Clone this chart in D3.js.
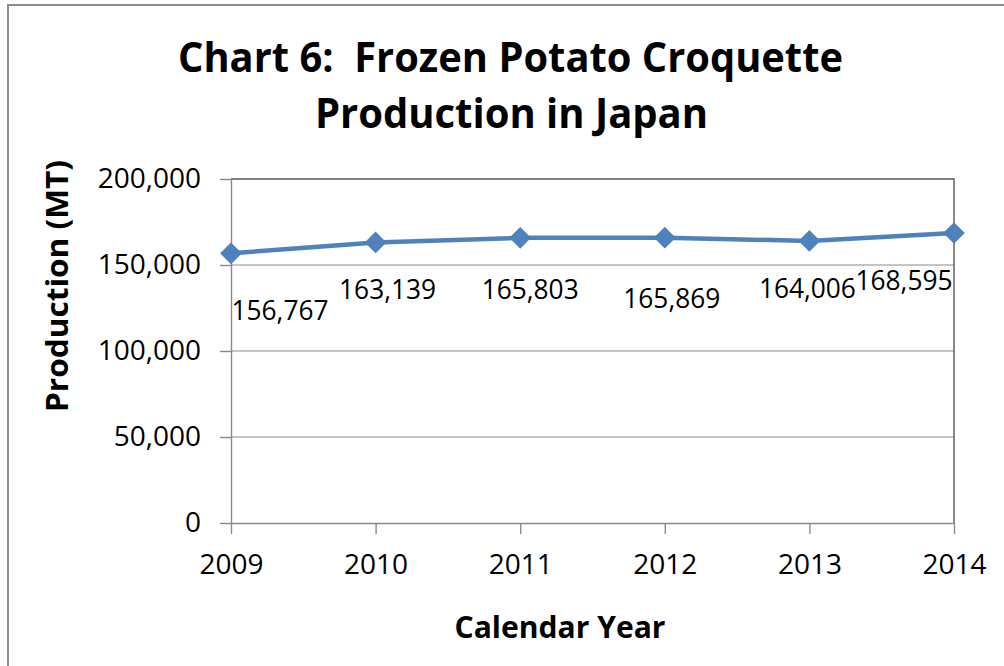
<!DOCTYPE html>
<html>
<head>
<meta charset="utf-8">
<script src="https://cdn.jsdelivr.net/npm/d3@7"></script>
<style>
  html, body { margin: 0; padding: 0; background: #fff; }
  svg { display: block; }
  text { font-family: "Open Sans", "Noto Sans", sans-serif; fill: #000; white-space: pre; }
</style>
</head>
<body>
<script>
// ---- data ----
const years = ["2009", "2010", "2011", "2012", "2013", "2014"];
const production = [156767, 163139, 165803, 165869, 164006, 168595];
const yTicks = [0, 50000, 100000, 150000, 200000];
const titleLines = ["Chart 6:  Frozen Potato Croquette", "Production in Japan"];
const xTitle = "Calendar Year";
const yTitle = "Production (MT)";

// ---- layout (not data) ----
const W = 1004, H = 666;
const plot = { left: 231, right: 954, top: 179, bottom: 523 };
// data-label placement relative to each point: [dx of label centre, baseline dy]
const labelOffsets = [[49, 67], [12, 57], [10, 61], [7, 70], [-2, 57], [-50, 57]];

const svg = d3.select("body").append("svg").attr("width", W).attr("height", H);

// outer chart border
svg.append("rect").attr("x", 8).attr("y", 5).attr("width", 1010).attr("height", 700)
  .attr("fill", "none").attr("stroke", "#8c8c8c").attr("stroke-width", 2);

const x = d3.scalePoint().domain(years).range([plot.left, plot.right]).padding(0);
const y = d3.scaleLinear().domain([0, 200000]).range([plot.bottom, plot.top]);

// gridlines
svg.append("g").selectAll("line").data(yTicks.filter(d => d > 0)).join("line")
  .attr("x1", plot.left).attr("x2", plot.right)
  .attr("y1", d => y(d)).attr("y2", d => y(d))
  .attr("stroke", "#8a8a8a").attr("stroke-width", 1.2);

// plot area border top/right
svg.append("path")
  .attr("d", `M${plot.left},${plot.top}H${plot.right}V${plot.bottom}`)
  .attr("fill", "none").attr("stroke", "#6a6a6a").attr("stroke-width", 1.6);

// y axis
const yAxis = svg.append("g").attr("transform", `translate(${plot.left},0)`)
  .call(d3.axisLeft(y).tickValues(yTicks).tickFormat(d3.format(",")).tickSizeInner(11).tickSizeOuter(0).tickPadding(19));
yAxis.selectAll("path, line").attr("stroke", "#8a8a8a").attr("stroke-width", 1.4);
yAxis.selectAll("text").attr("font-size", 28).attr("font-family", "'Open Sans', sans-serif").attr("fill", "#000");

// x axis
const xAxis = svg.append("g").attr("transform", `translate(0,${plot.bottom})`)
  .call(d3.axisBottom(x).tickSizeInner(11).tickSizeOuter(0).tickPadding(20));
xAxis.selectAll("path, line").attr("stroke", "#8a8a8a").attr("stroke-width", 1.4);
xAxis.selectAll("text").attr("font-size", 28).attr("font-family", "'Open Sans', sans-serif").attr("fill", "#000");

// series line
const pts = years.map((yr, i) => [x(yr), y(production[i])]);
svg.append("path").datum(pts)
  .attr("d", d3.line())
  .attr("fill", "none").attr("stroke", "#4f81bd").attr("stroke-width", 4.5)
  .attr("stroke-linejoin", "round");

// diamond markers
svg.append("g").selectAll("path").data(pts).join("path")
  .attr("d", d3.symbol(d3.symbolDiamond2, 300))
  .attr("transform", d => `translate(${d[0]},${d[1]})`)
  .attr("fill", "#4f81bd");

// data labels
svg.append("g").selectAll("text").data(production).join("text")
  .attr("x", (d, i) => pts[i][0] + labelOffsets[i][0])
  .attr("y", (d, i) => pts[i][1] + labelOffsets[i][1])
  .attr("text-anchor", "middle")
  .attr("font-size", 26.5)
  .attr("textLength", 97).attr("lengthAdjust", "spacingAndGlyphs")
  .text(d => d3.format(",")(d));

// title
svg.append("text").attr("x", 510.5).attr("y", 72).attr("text-anchor", "middle")
  .attr("xml:space", "preserve")
  .attr("font-size", 42).attr("font-weight", "bold")
  .attr("textLength", 665).attr("lengthAdjust", "spacingAndGlyphs")
  .text(titleLines[0]);
svg.append("text").attr("x", 511.5).attr("y", 128).attr("text-anchor", "middle")
  .attr("font-size", 42).attr("font-weight", "bold")
  .attr("textLength", 393).attr("lengthAdjust", "spacingAndGlyphs")
  .text(titleLines[1]);

// axis titles
svg.append("text").attr("x", 560).attr("y", 638).attr("text-anchor", "middle")
  .attr("font-size", 31).attr("font-weight", "bold")
  .attr("textLength", 211).attr("lengthAdjust", "spacingAndGlyphs")
  .text(xTitle);
svg.append("text").attr("transform", "translate(68,286) rotate(-90)").attr("text-anchor", "middle")
  .attr("font-size", 31).attr("font-weight", "bold")
  .attr("textLength", 252).attr("lengthAdjust", "spacingAndGlyphs")
  .text(yTitle);
</script>
</body>
</html>
